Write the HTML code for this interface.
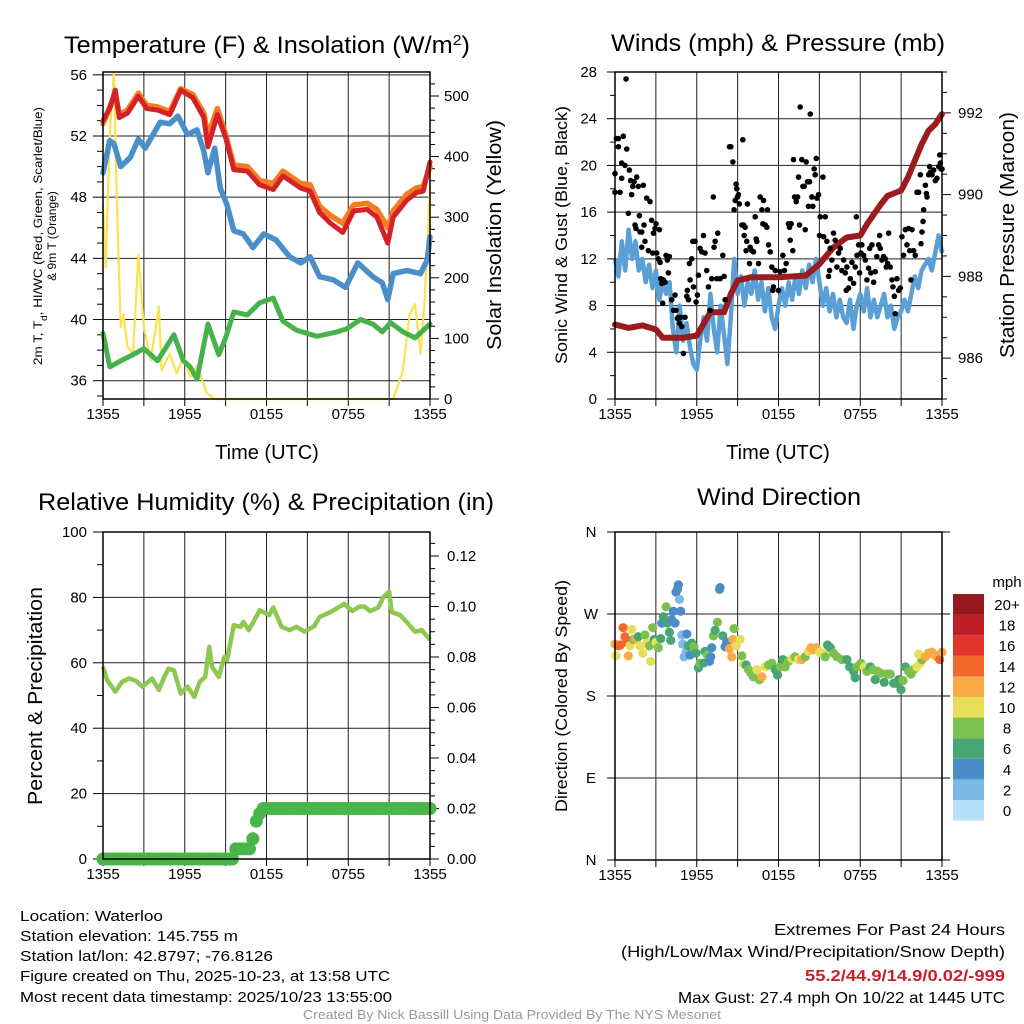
<!DOCTYPE html>
<html><head><meta charset="utf-8"><style>
html,body{margin:0;padding:0;background:#fff;}
svg{display:block;font-family:"Liberation Sans",sans-serif;}
</style></head><body>
<svg id="fig" width="1024" height="1024" viewBox="0 0 1024 1024" xmlns="http://www.w3.org/2000/svg">
<rect width="1024" height="1024" fill="#fff"/>
<g id="p1"></g>
<g id="p2"></g>
<g id="p3"></g>
<g id="p4"></g>

<text x="267" y="53" font-size="24" text-anchor="middle" textLength="406" lengthAdjust="spacingAndGlyphs">Temperature (F) &amp; Insolation (W/m<tspan baseline-shift="super" font-size="15">2</tspan>)</text>
<text x="778" y="51" font-size="24" text-anchor="middle" textLength="334" lengthAdjust="spacingAndGlyphs">Winds (mph) &amp; Pressure (mb)</text>
<text x="266" y="510" font-size="24" text-anchor="middle" textLength="456" lengthAdjust="spacingAndGlyphs">Relative Humidity (%) &amp; Precipitation (in)</text>
<text x="779" y="505" font-size="24" text-anchor="middle" textLength="164" lengthAdjust="spacingAndGlyphs">Wind Direction</text>

<text x="267" y="459" font-size="20" text-anchor="middle">Time (UTC)</text>
<text x="778" y="459" font-size="20" text-anchor="middle">Time (UTC)</text>

<text transform="translate(42,236) rotate(-90)" font-size="12" text-anchor="middle" textLength="258" lengthAdjust="spacingAndGlyphs">2m T, T<tspan baseline-shift="sub" font-size="9">d</tspan>, HI/WC (Red, Green, Scarlet/Blue)</text>
<text transform="translate(56,236) rotate(-90)" font-size="12" text-anchor="middle">&amp; 9m T (Orange)</text>
<text transform="translate(501,235) rotate(-90)" font-size="20" text-anchor="middle" textLength="230" lengthAdjust="spacingAndGlyphs">Solar Insolation (Yellow)</text>
<text transform="translate(567,235) rotate(-90)" font-size="17" text-anchor="middle" textLength="258" lengthAdjust="spacingAndGlyphs">Sonic Wind &amp; Gust (Blue, Black)</text>
<text transform="translate(1014,235) rotate(-90)" font-size="20" text-anchor="middle" textLength="246" lengthAdjust="spacingAndGlyphs">Station Pressure (Maroon)</text>
<text transform="translate(42,696) rotate(-90)" font-size="20" text-anchor="middle" textLength="218" lengthAdjust="spacingAndGlyphs">Percent &amp; Precipitation</text>
<text transform="translate(567,696) rotate(-90)" font-size="17" text-anchor="middle" textLength="232" lengthAdjust="spacingAndGlyphs">Direction (Colored By Speed)</text>

<g font-size="15">
<text x="20" y="921" textLength="143" lengthAdjust="spacingAndGlyphs">Location: Waterloo</text>
<text x="20" y="941" textLength="218" lengthAdjust="spacingAndGlyphs">Station elevation: 145.755 m</text>
<text x="20" y="961" textLength="253" lengthAdjust="spacingAndGlyphs">Station lat/lon: 42.8797; -76.8126</text>
<text x="20" y="981" textLength="370" lengthAdjust="spacingAndGlyphs">Figure created on Thu, 2025-10-23, at 13:58 UTC</text>
<text x="20" y="1002" textLength="372" lengthAdjust="spacingAndGlyphs">Most recent data timestamp: 2025/10/23 13:55:00</text>
</g>
<g font-size="16" text-anchor="end">
<text x="1005" y="935" textLength="231" lengthAdjust="spacingAndGlyphs">Extremes For Past 24 Hours</text>
<text x="1005" y="957" textLength="384" lengthAdjust="spacingAndGlyphs">(High/Low/Max Wind/Precipitation/Snow Depth)</text>
<text x="1005" y="981" fill="#c8202a" font-weight="bold" textLength="200" lengthAdjust="spacingAndGlyphs">55.2/44.9/14.9/0.02/-999</text>
<text x="1005" y="1003" textLength="327" lengthAdjust="spacingAndGlyphs">Max Gust: 27.4 mph On 10/22 at 1445 UTC</text>
</g>
<text x="512" y="1019" font-size="12.5" fill="#999" text-anchor="middle" textLength="418" lengthAdjust="spacingAndGlyphs">Created By Nick Bassill Using Data Provided By The NYS Mesonet</text>
</svg>
<script>
// ---------- data ----------
const xTickLabels = ["1355","1955","0155","0755","1355"];
const redH = [0,0.5,0.9,1.2,1.8,2.6,3.2,4.0,4.9,5.7,6.6,7.4,7.7,8.4,9.0,9.6,10.6,11.5,12.5,13.2,14.5,15.2,15.9,16.7,17.6,18.4,19.4,20.1,20.9,21.3,22.3,23.0,23.5,24];
const redT = [53.0,53.8,55.0,53.2,53.5,54.6,53.8,53.7,53.4,55.0,54.5,53.2,51.3,53.4,51.9,49.8,49.7,48.8,48.5,49.4,48.6,48.4,47.0,46.3,45.7,47.1,47.2,46.7,45.0,46.7,47.8,48.3,48.4,50.3];
const orangeT = [52.8,53.9,54.8,53.4,53.7,54.8,54.0,53.9,53.6,55.1,54.7,53.5,52.0,53.8,52.1,50.1,50.0,49.1,48.9,49.7,48.9,48.8,47.4,46.8,46.3,47.5,47.6,47.2,46.0,47.1,48.2,48.6,48.7,50.0];
const blueH = [0,0.5,0.8,1.3,2.0,2.6,3.1,4.2,4.9,5.5,6.2,6.9,7.4,7.7,8.2,8.6,9.1,9.6,10.3,11.0,11.8,12.7,13.7,14.5,15.2,15.9,16.9,17.8,18.7,19.8,20.5,20.9,21.3,22.3,23.3,23.8,24];
const blueT = [49.6,51.7,51.5,50.0,50.6,51.8,51.2,52.9,52.8,53.3,52.1,52.4,51.0,49.6,51.2,48.6,47.5,45.8,45.6,44.7,45.6,45.2,44.1,43.7,44.1,42.8,42.6,42.1,43.7,42.8,42.4,41.3,43.0,43.2,43.0,43.9,45.4];
const greenH = [0,0.5,1.3,2.2,3.0,4.0,5.2,5.9,6.4,6.9,7.7,8.5,9.0,9.6,10.6,11.5,12.5,13.2,14.2,15.7,17.2,17.9,18.9,19.8,20.5,21.1,22.0,22.9,24];
const greenTd = [39.1,36.9,37.3,37.7,38.1,37.3,39.0,37.3,36.9,36.1,39.7,37.7,38.8,40.5,40.3,41.1,41.4,39.9,39.3,38.9,39.2,39.4,40.0,39.7,39.2,39.8,39.2,38.8,39.7];
const solarH = [0,0.2,0.5,0.8,1.0,1.3,1.5,1.8,2.2,2.6,3.0,3.5,4.1,4.3,4.9,5.4,5.9,6.4,6.9,7.6,8.2,21.3,22.0,22.5,22.9,23.3,23.6,24];
const solarW = [317,218,439,538,340,119,140,86,75,238,119,64,152,47,75,42,69,36,55,10,0,0,46,140,157,75,162,350];
const tempTicks = [36,40,44,48,52,56];
const solarTicks = [0,100,200,300,400,500];

const presH = [0,1,2,3,3.5,4,5,6,6.5,7,8,8.5,9,9.5,10,12,14,15,16,17,18,18.5,19,19.5,20,21,21.5,22,22.5,23,23.5,24];
const presMb = [986.82,986.74,986.8,986.7,986.5,986.5,986.5,986.55,986.84,987.12,987.12,987.57,987.9,987.94,987.98,987.98,988.02,988.3,988.7,988.95,989.0,989.28,989.52,989.76,989.97,990.1,990.42,990.83,991.23,991.56,991.72,991.97];
const sonicMph = [12,10.5,13.5,11,14.5,12,13.5,11,12,10,11.5,9.5,11,8.5,10,9,10,6,4,8,5,6.5,4.5,3,2.5,5,7,5,9,6,4,8,5.5,3,7,12,9,10.5,8,10,9,11,8.5,10,7.5,9.5,7,6,8,9.5,8,10,8.5,10.5,9,11,9.5,11.5,10,12,10,8,9.5,7.5,9,7,8.5,7,6.5,8.5,6,8,9,7.5,9.5,7,8.5,7,8,9,7,8,6,7,7.5,8.5,7.5,9,10.5,9.5,11,11.5,12,11,12.5,14,12.5];
const gustH = [0,0,0.1,0.25,0.25,0.37,0.49,0.61,0.49,0.73,0.81,0.86,0.98,1.05,1.15,1.22,1.3,1.4,1.47,1.54,1.59,1.71,1.79,1.84,1.96,1.96,2.08,2.13,2.2,2.33,2.45,2.57,2.69,2.77,2.82,2.94,3.01,3.06,3.18,3.26,3.31,3.36,3.43,3.5,3.55,3.67,3.75,3.84,3.92,3.99,4.16,4.29,4.41,4.48,4.58,4.65,4.73,4.82,4.9,5.02,5.14,5.27,5.31,5.39,5.46,5.51,5.63,5.71,5.76,5.88,5.95,6.05,6.12,6.24,6.37,6.49,6.61,6.73,6.86,6.98,7.1,7.22,7.27,7.35,7.47,7.54,7.71,7.91,8.01,8.08,8.4,8.5,8.65,8.74,8.82,8.89,8.94,8.99,9.06,9.13,9.31,9.38,9.43,9.48,9.55,9.62,9.67,9.72,9.87,9.92,10.04,10.16,10.29,10.36,10.41,10.53,10.65,10.78,10.85,10.9,11.02,11.14,11.19,11.27,11.39,11.51,11.58,11.63,11.76,12.0,12.12,12.32,12.44,12.56,12.73,12.81,12.86,12.93,13.05,13.1,13.18,13.3,13.4,13.47,13.54,13.59,13.71,13.79,13.89,13.96,14.03,14.13,14.2,14.28,14.33,14.45,14.52,14.62,14.69,14.77,14.82,14.94,15.01,15.06,15.26,15.31,15.43,15.55,15.67,15.75,15.8,15.92,16.04,16.16,16.29,16.41,16.53,16.65,16.78,16.9,16.97,17.02,17.14,17.27,17.39,17.51,17.63,17.71,17.76,17.88,17.95,18.05,18.12,18.25,18.37,18.49,18.61,18.69,18.78,18.86,18.98,19.1,19.22,19.35,19.42,19.47,19.59,19.71,19.84,19.91,20.01,20.08,20.2,20.33,20.4,20.5,20.57,20.69,20.82,20.94,21.06,21.18,21.31,21.43,21.55,21.63,21.72,21.8,21.92,22.04,22.16,22.29,22.41,22.46,22.53,22.61,22.65,22.78,22.85,22.9,23.02,23.09,23.14,23.27,23.39,23.51,23.63,23.76,23.83,23.88,23.93,24.0];
const gustMph = [19.3,17.7,22.3,22.3,21.6,17.7,18.9,22.5,20.2,20.0,27.4,21.4,15.9,19.6,18.7,17.5,18.2,18.6,14.9,14.6,19.0,18.2,15.7,14.3,14.3,13.0,18.3,14.9,13.5,17.2,12.7,16.9,15.3,12.5,14.2,14.6,15.0,12.5,12.0,14.5,11.7,10.3,9.9,8.2,10.2,10.0,12.3,11.9,10.8,12.2,8.5,7.6,8.9,7.6,6.9,7.0,6.5,7.0,6.2,3.9,7.0,8.8,9.3,8.5,11.6,10.2,12.0,13.5,9.6,13.5,8.3,8.9,10.6,12.9,12.6,14.0,12.5,11.0,9.6,7.6,10.3,17.3,13.0,13.5,10.3,14.2,10.3,12.3,10.5,8.5,21.6,21.6,20.3,16.2,17.0,18.4,18.0,17.3,17.5,16.7,14.9,22.2,14.9,14.0,14.7,12.7,13.5,16.7,11.6,13.0,12.7,12.6,15.6,13.7,13.5,11.6,17.3,16.2,15.0,17.0,14.9,14.7,16.2,13.2,12.6,11.3,9.3,9.6,11.0,9.3,10.9,12.3,11.0,11.6,15.0,14.7,13.6,15.0,12.7,20.5,17.3,16.9,17.3,19.0,14.9,25.0,20.5,18.2,18.2,14.5,20.3,18.6,16.5,18.6,24.4,17.3,16.5,19.7,19.2,20.6,17.2,17.5,14.0,15.6,19.0,13.9,15.6,13.5,10.5,11.0,12.9,11.9,14.2,13.6,11.3,12.5,12.9,11.0,11.9,10.8,9.3,11.3,9.5,10.3,11.7,9.9,11.3,15.6,12.3,13.2,10.8,12.5,13.2,12.3,11.9,10.2,11.2,12.9,10.8,13.2,10.0,10.9,12.2,13.2,14.0,12.9,11.9,12.2,12.0,11.3,11.6,14.2,11.3,10.2,9.6,8.8,7.3,10.3,9.3,9.5,13.9,12.3,14.5,13.2,14.6,12.7,10.2,14.5,12.7,12.3,17.7,17.7,19.2,13.3,14.3,15.2,16.2,18.3,17.6,17.3,19.2,19.9,19.4,19.2,19.6,18.7,18.9,19.9,20.9,20.2,19.7,19.7];
const windTicks = [0,4,8,12,16,20,24,28];
const presTicks = [986,988,990,992];

const rhH = [0,0.3,0.9,1.4,1.9,2.4,2.9,3.6,4.1,4.5,4.8,5.2,5.7,6.2,6.7,7.1,7.5,7.8,8.0,8.5,8.9,9.1,9.6,10.1,10.3,10.7,11.1,11.5,12.2,12.5,13.1,13.7,14.2,14.8,15.5,15.9,16.7,17.7,18.3,18.8,19.2,19.6,20.2,20.6,21.0,21.2,21.8,22.4,22.9,23.4,24];
const rhPct = [58.8,54.7,51.2,54.2,55.2,54.5,52.7,55.2,51.7,55.7,58.2,57.7,50.6,52.7,49.6,54.2,55.7,64.9,58.8,55.7,61.8,60.8,71.5,71.0,72.5,70.0,73.0,76.1,74.6,76.9,71.0,70.0,71.0,69.5,71.2,74.0,75.5,78.0,75.8,77.2,77.2,75.8,76.9,80.2,81.7,75.5,74.6,72.0,69.5,70.0,67.0];
const precipIn = [0,0,0,0,0,0,0,0,0,0,0,0,0,0,0,0,0,0,0,0,0,0,0,0,0,0,0,0,0,0,0,0,0,0,0,0,0,0,0,0.004,0.004,0.004,0.004,0.004,0.008,0.015,0.018,0.02,0.02,0.02,0.02,0.02,0.02,0.02,0.02,0.02,0.02,0.02,0.02,0.02,0.02,0.02,0.02,0.02,0.02,0.02,0.02,0.02,0.02,0.02,0.02,0.02,0.02,0.02,0.02,0.02,0.02,0.02,0.02,0.02,0.02,0.02,0.02,0.02,0.02,0.02,0.02,0.02,0.02,0.02,0.02,0.02,0.02,0.02,0.02,0.02,0.02];
const rhTicks = [0,20,40,60,80,100];
const precipTicks = [0,0.02,0.04,0.06,0.08,0.10,0.12];
const precipTickLabels = ["0.00","0.02","0.04","0.06","0.08","0.10","0.12"];

const dirH = [0,0.07,0.25,0.4,0.6,0.73,0.86,0.98,1.1,1.22,1.35,1.54,1.71,1.84,2.03,2.2,2.33,2.52,2.62,2.77,2.87,3.01,3.18,3.36,3.43,3.55,3.75,3.84,3.99,4.09,4.16,4.29,4.41,4.48,4.58,4.65,4.73,4.82,4.9,4.97,5.07,5.22,5.27,5.39,5.51,5.63,5.8,5.95,6.12,6.24,6.49,6.61,6.78,6.93,7.03,7.1,7.22,7.35,7.52,7.67,7.71,7.91,8.08,8.2,8.4,8.57,8.65,8.74,8.89,9.18,9.31,9.43,9.62,9.8,9.97,10.16,10.41,10.6,10.78,11.02,11.27,11.51,11.76,11.93,12.12,12.32,12.49,12.73,12.98,13.22,13.47,13.71,13.96,14.2,14.38,14.57,14.77,15.01,15.31,15.43,15.6,15.8,16.04,16.29,16.65,17.02,17.22,17.51,17.63,17.76,18.05,18.3,18.49,18.74,18.93,19.1,19.27,19.51,19.76,19.96,20.2,20.45,20.65,20.82,20.99,21.14,21.31,21.55,21.72,21.92,22.16,22.41,22.53,22.29,22.78,23.02,23.27,23.44,23.63,23.83,24.0];
const dirDeg = [237,224,235,236,255,245,239,224,235,253,242,243,245,235,227,247,238,235,218,255,242,239,233,243,260,267,278,260,250,241,264,273,260,294,297,302,286,273,247,237,223,228,248,235,225,238,234,227,211,216,216,229,225,218,223,233,246,252,261,297,299,246,234,239,232,223,242,254,235,242,224,215,214,209,205,201,209,198,201,212,214,216,209,203,212,220,212,218,221,223,220,220,223,229,233,231,233,228,227,223,236,233,227,223,220,220,212,207,200,212,216,212,207,212,209,198,207,205,195,204,204,194,194,198,187,197,212,207,204,209,212,216,220,226,223,227,228,225,223,220,228];
const dirSpd = [13,11,15,15,15,15,15,13,11,11,9,13,7,11,11,9,11,9,11,9,7,11,9,7,5,7,9,7,7,7,5,5,5,5,5,5,3,5,3,3,3,3,5,7,5,7,9,7,7,9,7,7,9,5,5,5,9,7,9,7,5,7,5,5,13,13,13,9,11,11,9,11,7,9,9,9,11,9,13,11,9,9,7,7,9,7,9,9,11,9,11,13,9,11,13,13,13,11,11,9,7,7,9,9,9,7,7,7,7,9,9,11,9,7,9,7,9,9,7,9,9,7,7,7,7,9,7,9,9,9,11,11,9,11,13,13,13,13,13,15,13];
const dirTicks = [0,90,180,270,360];
const dirTickLabels = ["N","E","S","W","N"];
const speedBins = ["0","2","4","6","8","10","12","14","16","18","20+"];
const speedColors = ["#b5e2f8","#7db9e5","#4a8dc6","#47a673","#7cc04e","#e6e057","#f8aa46","#f2682c","#e1342a","#bd1e27","#94181d"];

// ---------- helpers ----------
const NS = "http://www.w3.org/2000/svg";
function el(parent, tag, attrs) {
  const e = document.createElementNS(NS, tag);
  for (const k in attrs) e.setAttribute(k, attrs[k]);
  parent.appendChild(e);
  return e;
}
function lin(d0, d1, r0, r1) { return v => r0 + (v - d0) * (r1 - r0) / (d1 - d0); }
function txt(parent, x, y, s, size, anchor, name) {
  const t = el(parent, "text", {x: x, y: y, "font-size": size, "text-anchor": anchor});
  t.textContent = s;
  
  
  return t;
}
function pathFrom(xs, ys, fx, fy) {
  let d = "";
  for (let i = 0; i < xs.length; i++) d += (i ? "L" : "M") + fx(xs[i]).toFixed(1) + "," + fy(ys[i]).toFixed(1);
  return d;
}
function frame(g, L, R, T, B, fx) {
  // vertical grid every 3h
  for (let h = 0; h <= 24; h += 3) {
    const x = fx(h);
    const ln = el(g, "line", {x1: x, x2: x, y1: T, y2: B, stroke: "#222", "stroke-width": 1});
    
    
    const tk = el(g, "line", {x1: x, x2: x, y1: B, y2: B + 7, stroke: "#000", "stroke-width": 1});
    
    
  }
  xTickLabels.forEach((s, i) => txt(g, fx(i * 6), B + 20, s, 15, "middle", "x-tick-label"));
}
function border(g, L, R, T, B) {
  const r = el(g, "rect", {x: L, y: T, width: R - L, height: B - T, fill: "none", stroke: "#000", "stroke-width": 1.5});
  
  
}
function hgrid(g, L, R, y) {
  const ln = el(g, "line", {x1: L, x2: R, y1: y, y2: y, stroke: "#222", "stroke-width": 1});
  
  
}
function tick(g, x, y, len) {
  const ln = el(g, "line", {x1: x, x2: x + len, y1: y, y2: y, stroke: "#000", "stroke-width": 1});
  
  
}

// ---------- panel 1 ----------
(function () {
  const g = document.getElementById("p1");
  const L = 103, R = 430, T = 72, B = 399;
  const fx = lin(0, 24, L, R);
  const fy = lin(36, 52, 380.7, 136);
  const fs = lin(0, 500, 399, 96);
  frame(g, L, R, T, B, fx);
  tempTicks.forEach(v => { hgrid(g, L, R, fy(v)); tick(g, L, fy(v), -10); txt(g, L - 16, fy(v) + 5, String(v), 15, "end", "temp-tick-label"); });
  for (let v = 35; v <= 56; v += 1) if (v % 4) tick(g, L, fy(v), -6);
  solarTicks.forEach(v => { tick(g, R, fs(v), 9); txt(g, R + 14, fs(v) + 5, String(v), 15, "start", "solar-tick-label"); });
  for (let v = 20; v <= 520; v += 20) if (v % 100) tick(g, R, fs(v), 5);
  const series = [
    [solarH, solarW, fs, "#fae34e", 2.2, "solar-line"],
    [greenH, greenTd, fy, "#45b24a", 5, "dewpoint-line"],
    [blueH, blueT, fy, "#4a8fc9", 5.5, "heat-index-windchill-line"],
    [redH, orangeT, fy, "#f47d22", 5.5, "9m-temperature-line"],
    [redH, redT, fy, "#d42226", 5, "2m-temperature-line"]
  ];
  series.forEach(s => {
    const p = el(g, "path", {d: pathFrom(s[0], s[1], fx, s[2]), fill: "none", stroke: s[3], "stroke-width": s[4], "stroke-linejoin": "round", "stroke-linecap": "round"});
    
    
  });
  border(g, L, R, T, B);
})();

// ---------- panel 2 ----------
(function () {
  const g = document.getElementById("p2");
  const L = 615, R = 942, T = 72, B = 399;
  const fx = lin(0, 24, L, R);
  const fy = lin(0, 28, B, T);
  const fp = lin(985, 993, B, T);
  frame(g, L, R, T, B, fx);
  windTicks.forEach(v => { hgrid(g, L, R, fy(v)); tick(g, L, fy(v), -8); txt(g, L - 18, fy(v) + 5, String(v), 15, "end", "wind-tick-label"); });
  for (let v = 2; v < 28; v += 4) tick(g, L, fy(v), -5);
  presTicks.forEach(v => { tick(g, R, fp(v), 9); txt(g, R + 16, fp(v) + 5, String(v), 15, "start", "pressure-tick-label"); });
  for (let v = 985; v <= 993; v += 0.5) if (v % 2) tick(g, R, fp(v), 5);
  const sonicH = sonicMph.map((v, i) => i * 0.25);
  const s = el(g, "path", {d: pathFrom(sonicH, sonicMph, fx, fy), fill: "none", stroke: "#5a9fd6", "stroke-width": 4.5, "stroke-linejoin": "round"});
  
  
  const p = el(g, "path", {d: pathFrom(presH, presMb, fx, fp), fill: "none", stroke: "#9b1b1e", "stroke-width": 6, "stroke-linejoin": "round", "stroke-linecap": "round"});
  
  
  gustH.forEach((h, i) => {
    const c = el(g, "circle", {cx: fx(h), cy: fy(gustMph[i]), r: 2.8, fill: "#000"});
    
    
  });
  border(g, L, R, T, B);
})();

// ---------- panel 3 ----------
(function () {
  const g = document.getElementById("p3");
  const L = 103, R = 430, T = 532, B = 859;
  const fx = lin(0, 24, L, R);
  const fy = lin(0, 100, B, T);
  const fq = lin(0, 0.12, B, 556);
  frame(g, L, R, T, B, fx);
  rhTicks.forEach(v => { hgrid(g, L, R, fy(v)); tick(g, L, fy(v), -10); txt(g, L - 16, fy(v) + 5, String(v), 15, "end", "humidity-tick-label"); });
  for (let v = 10; v < 100; v += 20) tick(g, L, fy(v), -6);
  precipTicks.forEach((v, i) => { tick(g, R, fq(v), 9); txt(g, R + 17, fq(v) + 5, precipTickLabels[i], 15, "start", "precip-tick-label"); });
  for (let v = 0.005; v < 0.13; v += 0.005) tick(g, R, fq(v), 5);
  const rl = el(g, "path", {d: pathFrom(rhH, rhPct, fx, fy), fill: "none", stroke: "#8dc850", "stroke-width": 4.5, "stroke-linejoin": "round"});
  
  
  precipIn.forEach((v, i) => {
    const c = el(g, "circle", {cx: fx(i * 0.25), cy: fq(v), r: 6.5, fill: "#47b548"});
    
    
  });
  border(g, L, R, T, B);
})();

// ---------- panel 4 ----------
(function () {
  const g = document.getElementById("p4");
  const L = 615, R = 942, T = 532, B = 860;
  const fx = lin(0, 24, L, R);
  const fy = lin(0, 360, B, T);
  frame(g, L, R, T, B, fx);
  dirTicks.forEach((v, i) => { hgrid(g, L, R, fy(v)); tick(g, L, fy(v), -8); tick(g, R, fy(v), 8); txt(g, L - 24, fy(v) + 5, dirTickLabels[i], 15, "middle", "direction-tick-label"); });
  dirH.forEach((h, i) => {
    const idx = Math.min(10, Math.floor(dirSpd[i] / 2));
    const c = el(g, "circle", {cx: fx(h), cy: fy(dirDeg[i]), r: 4.6, fill: speedColors[idx]});
    
    
  });
  border(g, L, R, T, B);
  // colorbar
  const cb = el(g, "g", {});
  
  
  txt(cb, 1007, 587, "mph", 15, "middle", "colorbar-title");
  speedBins.forEach((s, i) => {
    const y = 594 + (10 - i) * 20.6;
    const r = el(cb, "rect", {x: 953, y: y, width: 31, height: 20.6, fill: speedColors[i]});
    
    
    txt(cb, 1007, y + 16, s, 15, "middle", "colorbar-label");
  });
})();
</script>
</body></html>
